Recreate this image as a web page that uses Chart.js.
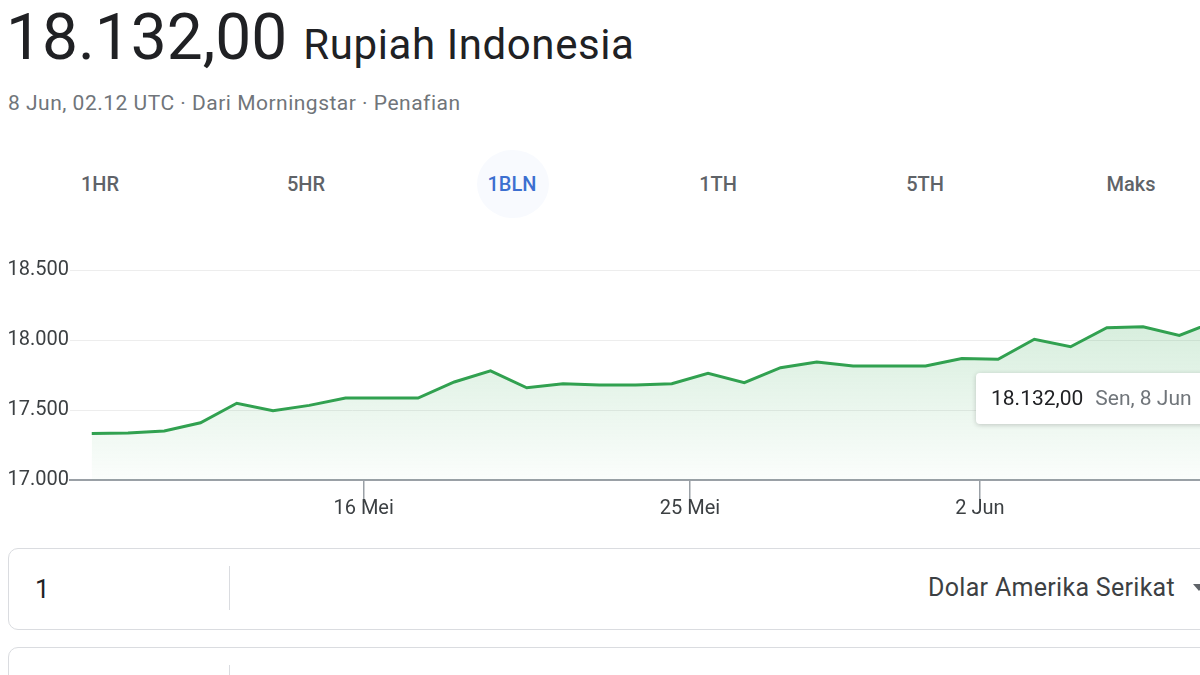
<!DOCTYPE html>
<html>
<head>
<meta charset="utf-8">
<script src="https://cdn.jsdelivr.net/npm/chart.js@4/dist/chart.umd.min.js"></script>
<style>
  html, body { margin: 0; padding: 0; background: #fff; }
  body { width: 1200px; height: 675px; overflow: hidden; position: relative; font-family: Roboto, "Noto Sans", sans-serif; }
  .price { position: absolute; left: 6px; top: 0px; font-size: 64px; color: #202124; line-height: 76px; white-space: nowrap; }
  .price span { font-size: 42px; margin-left: 16px; letter-spacing: 0.6px; }
  .sub { position: absolute; left: 8px; top: 91px; font-size: 21px; letter-spacing: 0.5px; color: #70757a; white-space: nowrap; }
  .tab { position: absolute; top: 172px; width: 120px; margin-left: -60px; text-align: center; font-size: 20px; font-weight: 500; color: #5f6368; line-height: 24px; }
  .tab.on { color: #3c6fd0; }
  .tabbg { position: absolute; left: 477px; top: 150px; width: 72px; height: 68px; border-radius: 50%; background: #f8fafe; }
  #wrap { position: absolute; left: 0; top: 251px; width: 1200px; height: 290px; }
  .tip { position: absolute; left: 976px; top: 373px; width: 260px; height: 51px; background: #fff; border-radius: 4px;
         box-shadow: 0 1px 5px rgba(0,0,0,0.2); font-size: 21px; line-height: 51px; white-space: nowrap; }
  .tip b { font-weight: 400; color: #202124; margin-left: 15px; }
  .tip i { font-style: normal; color: #70757a; margin-left: 12px; }
  .box { position: absolute; left: 8px; width: 1220px; height: 80px; border: 1px solid #dadce0; border-radius: 10px; }
  .box .num { position: absolute; left: 26px; top: 0; line-height: 80px; font-size: 26px; color: #202124; }
  .box .div { position: absolute; left: 220px; top: 17px; width: 1px; height: 44px; background: #dadce0; }
  .box .cur { position: absolute; right: 54px; top: 0; line-height: 78px; font-size: 25px; letter-spacing: 0.3px; color: #3c4043; }
  .box .arr { position: absolute; right: 24px; top: 35px; width: 0; height: 0; border-left: 6px solid transparent; border-right: 6px solid transparent; border-top: 7px solid #5f6368; }
</style>
</head>
<body>
<div class="price">18.132,00<span>Rupiah Indonesia</span></div>
<div class="sub">8 Jun, 02.12 UTC · Dari Morningstar · Penafian</div>

<div class="tabbg"></div>
<div class="tab" style="left:100px">1HR</div>
<div class="tab" style="left:306px">5HR</div>
<div class="tab on" style="left:512px">1BLN</div>
<div class="tab" style="left:718px">1TH</div>
<div class="tab" style="left:925px">5TH</div>
<div class="tab" style="left:1131px">Maks</div>

<div id="wrap"><canvas id="chart"></canvas></div>
<div class="tip" id="tip"></div>

<div class="box" style="top:548px">
  <div class="num">1</div>
  <div class="div"></div>
  <div class="cur">Dolar Amerika Serikat</div>
  <div class="arr"></div>
</div>
<div class="box" style="top:647px">
  <div class="div"></div>
</div>

<script>
// Day positions (1 = 1 Mei, 32 = 1 Jun), one point a day
const days = [8.5, 9.5, 10.5, 11.5, 12.5, 13.5, 14.5, 15.5, 16.5, 17.5, 18.5, 19.5, 20.5, 21.5, 22.5, 23.5,
              24.5, 25.5, 26.5, 27.5, 28.5, 29.5, 30.5, 31.5, 32.5, 33.5, 34.5, 35.5, 36.5, 37.5, 38.5, 39.5];
// IDR per 1 USD
const rates = [17333, 17335, 17350, 17409, 17548, 17495, 17533, 17586, 17586, 17585, 17700, 17779, 17659, 17688, 17679, 17679,
               17688, 17762, 17695, 17802, 17843, 17814, 17814, 17814, 17867, 17862, 18005, 17952, 18088, 18095, 18033, 18132];

const xTickDays = [16, 25, 33];
const xTickLabels = ['16 Mei', '25 Mei', '2 Jun'];
const yTicks = [17000, 17500, 18000, 18500];

const lastLabel = 'Sen, 8 Jun';

function idr(v, dec) {
    return v.toLocaleString('de-DE', { minimumFractionDigits: dec, maximumFractionDigits: dec });
}

// Tooltip for the last reading
document.getElementById('tip').innerHTML =
    '<b>' + idr(rates[rates.length - 1], 2) + '</b><i>' + lastLabel + '</i>';

Chart.defaults.font.family = 'Roboto';
Chart.defaults.font.size = 20;
Chart.defaults.color = '#3c4043';

const ctx = document.getElementById('chart').getContext('2d');
const chart = new Chart(ctx, {
    type: 'line',
    data: {
        datasets: [{
            data: days.map((d, i) => ({ x: d, y: rates[i] })),
            borderColor: '#31a150',
            borderWidth: 3,
            pointRadius: 0,
            tension: 0,
            fill: 'start',
            backgroundColor: (c) => {
                const area = c.chart.chartArea;
                if (!area) return 'rgba(52,168,83,0.1)';
                const g = c.chart.ctx.createLinearGradient(0, area.top, 0, area.bottom);
                g.addColorStop(0, 'rgba(52,168,83,0.26)');
                g.addColorStop(1, 'rgba(52,168,83,0.02)');
                return g;
            }
        }]
    },
    options: {
        responsive: true,
        maintainAspectRatio: false,
        animation: false,
        layout: { padding: { top: 19, left: 0, right: 0, bottom: 0 } },
        plugins: { legend: { display: false }, tooltip: { enabled: false } },
        scales: {
            x: {
                type: 'linear',
                min: 7.9,
                max: 39.07,
                afterBuildTicks: (s) => { s.ticks = xTickDays.map(v => ({ value: v })); },
                afterFit: (s) => { s.height = 61; },
                ticks: {
                    autoSkip: false,
                    maxRotation: 0,
                    padding: -3,
                    color: '#3c4043',
                    callback: (v) => xTickLabels[xTickDays.indexOf(v)]
                },
                grid: { drawOnChartArea: false, drawTicks: true, tickLength: 20, color: '#9aa0a6', lineWidth: 1.5 },
                border: { display: true, color: '#9aa0a6', width: 2 }
            },
            y: {
                min: 17000,
                max: 18500,
                afterBuildTicks: (s) => { s.ticks = yTicks.map(v => ({ value: v })); },
                afterFit: (s) => { s.width = 70; },
                ticks: {
                    padding: 1,
                    color: '#3c4043',
                    callback: (v) => idr(v, 0)
                },
                grid: {
                    drawTicks: false,
                    color: (c) => c.tick && c.tick.value === 17000 ? 'rgba(0,0,0,0)' : '#ededed',
                    lineWidth: 1
                },
                border: { display: false }
            }
        }
    }
});
</script>
</body>
</html>
